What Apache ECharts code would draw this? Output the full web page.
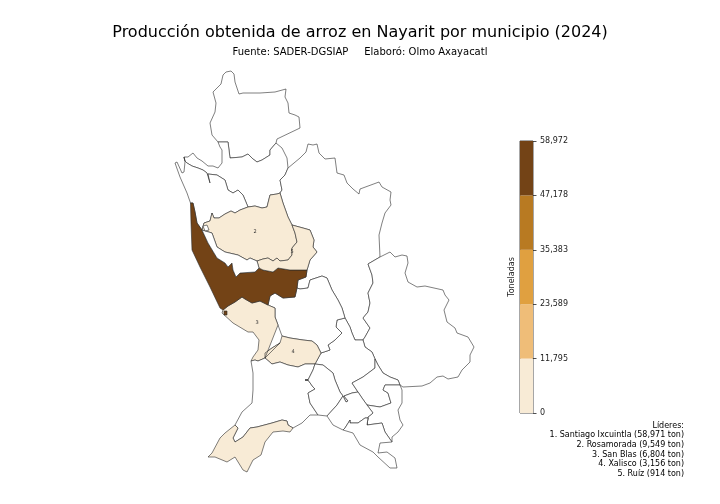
<!DOCTYPE html>
<html>
<head>
<meta charset="UTF-8">
<title>Arroz Nayarit</title>
<script src="https://cdn.jsdelivr.net/npm/echarts@6/dist/echarts.min.js"></script>
<style>
html, body { margin: 0; padding: 0; background: #fff; }
#main { width: 720px; height: 504px; }
</style>
</head>
<body>
<div id="main"></div>
<script type="text/javascript">
// datos
var municipios = ['Santiago Ixcuintla', 'Rosamorada', 'San Blas', 'Xalisco', 'Ruíz', 'Bahía de Banderas'];
var toneladas = [58971, 9549, 6804, 3156, 914, 500];
var numLideres = 5;
var cortes = [0, 11795, 23589, 35383, 47178, 58972];
var colores = ['#f8ebd6', '#efbd78', '#e0a040', '#b87a22', '#734316'];

// trazos de los limites municipales, compartidos entre vecinos
var bordes = {
  hua_n: [[218,142],[212,135],[210,123],[215,112],[216,103],[213,92],[221,84],[223,75],[226,72],[231,71],[234,74],[235,82],[237,88],[239,94],[243,93],[260,93],[275,92],[286,89],[285,97],[288,103],[289,113],[295,115],[299,117],[300,128],[301,129],[277,139],[276,143]],
  hua_s: [[276,143],[270,150],[270,155],[262,160],[257,162],[253,159],[248,154],[242,157],[230,158],[228,142],[218,142]],
  aca_n: [[218,142],[220,147],[222,150],[222,163],[218,168],[213,166],[208,166],[202,161],[197,158],[193,153],[188,157],[184,157]],
  aca_s: [[184,157],[185,161],[187,163],[192,166],[198,168],[203,170],[207,173],[210,183],[208,174],[217,175],[225,180],[228,190],[233,193],[238,190],[243,195],[248,207]],
  aca_e: [[248,207],[255,206],[262,208],[267,207],[270,195],[277,194],[280,193]],
  aca_e2: [[280,193],[282,190],[280,180],[285,175],[288,168]],
  aca_e3: [[288,168],[287,158],[282,148],[276,143]],
  tec_o: [[184,157],[185,162],[184,172],[182,173],[177,162],[175,163],[180,177],[187,193],[190.5,203]],
  stg_n: [[190.5,203],[193,203],[195,212],[197,223],[202,230]],
  ros_n: [[202,230],[204,223],[210,221],[212,213],[214,218],[219,218],[225,214],[231,211],[235,213],[240,210],[248,207]],
  nay_n: [[288,168],[300,158],[306,152],[308,144],[313,145],[317,144],[319,153],[325,159],[335,158],[337,173],[344,175],[347,183],[353,189],[359,194],[360,189],[379,182],[382,187],[391,192],[390,200],[391,205],[385,213],[382,223],[379,235],[380,257]],
  yes_n: [[380,257],[390,252],[395,257],[402,255],[407,256],[408,263],[405,273],[408,282],[417,287],[425,286],[443,290],[445,295],[449,300],[444,310],[447,322],[455,328],[457,333],[468,337],[474,347],[470,355],[470,362],[462,370],[458,377],[448,379],[443,376],[437,377],[430,383],[422,386],[403,387],[400,385]],
  yes_o: [[380,257],[368,264],[372,275],[373,283],[368,293],[370,303],[368,312],[363,318],[370,328],[365,337],[363,340]],
  yes_s: [[400,385],[398,380],[390,377],[383,373],[378,365],[375,359]],
  yes_so: [[375,359],[372,352],[365,347],[363,340]],
  ros_e: [[280,193],[283,203],[288,217],[292,225]],
  rui_ne: [[292,225],[303,228],[310,230],[314,240],[313,247],[317,252],[310,260],[307,270]],
  stg_e: [[307,270],[306,277],[298,280],[297,288]],
  tep_n: [[297,288],[300,289],[308,288],[310,280],[322,276],[327,278],[332,290],[338,300],[342,308],[345,318]],
  smo_n: [[345,318],[350,327],[352,333],[355,340],[363,340]],
  smo_e: [[375,359],[375,368],[363,377],[352,383]],
  j1: [[352,383],[358,392]],
  j2: [[358,392],[352,393],[344,396],[348,401],[346,402],[343,396]],
  smo_so: [[343,396],[340,392],[335,380],[333,373],[323,365],[315,364]],
  tep_se: [[321,353],[330,350],[328,345],[335,340],[342,333],[336,327],[337,320],[345,318]],
  xal_n: [[282,336],[290,338],[303,340],[312,341],[317,345],[321,353]],
  xal_e: [[321,353],[315,364]],
  xal_s: [[315,364],[305,364],[298,367],[288,365],[280,362],[272,364],[265,358]],
  xal_o: [[265,358],[265,353],[272,348],[280,343],[282,336]],
  sb_e: [[282,336],[278,325],[275,317],[275,308],[268,305]],
  stg_so: [[297,288],[295,297],[283,298],[275,293],[270,296],[268,305]],
  stg_s: [[268,305],[260,301],[252,303],[245,299],[242,297],[235,302],[228,306],[223,310]],
  sb_c: [[223,310],[222,313],[233,323],[248,332],[253,332],[259,340],[258,350],[253,357],[251,361]],
  sb_s: [[251,361],[255,360],[258,361],[265,358]],
  com_o: [[251,361],[253,373],[253,390],[252,403],[242,412],[235,425]],
  bah_c: [[235,425],[238,428],[233,438],[235,442],[243,437],[250,428],[257,427],[272,423],[282,420],[287,421],[288,425],[293,428]],
  bah_o: [[293,428],[290,432],[283,431],[273,432],[265,442],[261,455],[253,460],[247,472],[243,470],[235,457],[227,462],[215,457],[208,457],[212,453],[220,438],[225,433],[235,425]],
  com_s: [[293,428],[302,423],[310,415],[318,415]],
  spl_o: [[318,415],[310,403],[308,393],[315,389],[313,387],[308,380],[305,380],[308,380],[313,370],[315,364]],
  spl_s: [[318,415],[327,416]],
  spl_e: [[327,416],[337,405],[343,396]],
  jal_e: [[400,385],[385,385],[383,390],[388,393],[391,403],[380,407],[367,405]],
  jal_so: [[367,405],[362,398],[358,392]],
  ixt_e: [[400,385],[402,390],[402,403],[398,410],[400,420],[403,425],[398,432],[392,437],[392,442]],
  ixt_s: [[392,442],[385,432],[382,423],[367,425]],
  ixt_o: [[367,425],[368,417],[373,413],[367,405]],
  ahu_s: [[367,425],[368,418],[365,418],[358,423],[350,423],[350,420],[345,428],[343,430]],
  ahu_o: [[343,430],[333,425],[327,416]],
  ama_o: [[343,430],[353,433],[360,445],[373,452],[378,457],[390,468],[397,468],[395,458],[387,452],[378,453],[380,443],[392,442]],
  stg_tux: [[202,230],[208,243],[217,258],[225,263],[228,267],[232,263],[233,270],[236,277],[240,273],[255,272],[259,268]],
  stg_rui: [[259,268],[263,270],[273,272],[278,268],[290,270],[307,270]],
  stg_c: [[223,310],[220,308],[210,287],[200,267],[192,250],[191,223],[190.5,203]],
  ros_rui: [[292,225],[295,233],[297,242],[292,248],[292,255],[288,260],[280,261],[277,258],[273,261],[268,258],[263,259],[257,261]],
  ros_tux: [[257,261],[250,258],[247,260],[238,255],[225,252],[217,247],[212,233],[202,230]],
  tux_e: [[259,268],[257,261]]
};

// cada municipio como lista de trazos ('-' = recorrido al reves)
var anillos = {
  'Huajicori': ['hua_n', 'hua_s'],
  'Acaponeta': ['aca_n', 'aca_s', 'aca_e', 'aca_e2', 'aca_e3', 'hua_s'],
  'Tecuala': ['tec_o', 'stg_n', 'ros_n', '-aca_s'],
  'Del Nayar': ['nay_n', 'yes_o', '-smo_n', '-tep_n', '-stg_e', '-rui_ne', '-ros_e', 'aca_e2'],
  'La Yesca': ['yes_n', 'yes_s', 'yes_so', '-yes_o'],
  'Santa María del Oro': ['smo_n', '-yes_so', 'smo_e', 'j1', 'j2', 'smo_so', '-xal_e', 'tep_se'],
  'Tepic': ['tep_n', '-tep_se', '-xal_n', 'sb_e', '-stg_so'],
  'Xalisco': ['xal_n', 'xal_e', 'xal_s', 'xal_o'],
  'San Blas': ['sb_c', 'sb_s', '-xal_o', 'sb_e', 'stg_s'],
  'Compostela': ['com_o', 'bah_c', 'com_s', 'spl_o', 'xal_s', '-sb_s'],
  'Bahía de Banderas': ['bah_c', 'bah_o'],
  'San Pedro Lagunillas': ['-spl_o', 'spl_s', 'spl_e', 'smo_so'],
  'Jala': ['-smo_e', '-yes_s', 'jal_e', 'jal_so', '-j1'],
  'Ixtlán del Río': ['ixt_e', 'ixt_s', 'ixt_o', '-jal_e'],
  'Ahuacatlán': ['-jal_so', '-ixt_o', 'ahu_s', 'ahu_o', 'spl_e', '-j2'],
  'Amatlán de Cañas': ['ama_o', 'ixt_s', 'ahu_s'],
  'Santiago Ixcuintla': ['stg_tux', 'stg_rui', 'stg_e', 'stg_so', 'stg_s', 'stg_c', 'stg_n'],
  'Rosamorada': ['ros_n', 'aca_e', 'ros_e', 'ros_rui', 'ros_tux'],
  'Ruíz': ['rui_ne', '-stg_rui', 'tux_e', '-ros_rui'],
  'Tuxpan': ['stg_tux', 'tux_e', 'ros_tux']
};
var isla = [[224,311],[227,311],[227,315],[224,315],[224,311]];
var laguna = [[203,226],[207,225],[209,230],[205,231],[203,226]];
var centros = {'Rosamorada': [255,232], 'San Blas': [257,323], 'Xalisco': [293,352], 'Ruíz': [292,252]};

function voltear(p) { return [p[0], -p[1]]; }

function anillo(lista) {
  var pts = [];
  lista.forEach(function (n) {
    var t = n.charAt(0) === '-' ? bordes[n.slice(1)].slice().reverse() : bordes[n];
    pts = pts.concat(pts.length ? t.slice(1) : t);
  });
  return pts.map(voltear);
}

var features = Object.keys(anillos).map(function (nombre) {
  var props = {name: nombre};
  if (centros[nombre]) props.cp = voltear(centros[nombre]);
  var geom = {type: 'Polygon', coordinates: [anillo(anillos[nombre])]};
  if (nombre === 'Santiago Ixcuintla') {
    geom = {type: 'MultiPolygon', coordinates: [[anillo(anillos[nombre])], [isla.map(voltear)]]};
  }
  return {type: 'Feature', properties: props, geometry: geom};
});
features.push({type: 'Feature', properties: {name: 'Laguna'}, geometry: {type: 'Polygon', coordinates: [laguna.map(voltear)]}});
echarts.registerMap('nayarit', {type: 'FeatureCollection', features: features});

function miles(v) { return String(v).replace(/\B(?=(\d{3})+(?!\d))/g, ','); }

var lideres = ['Líderes:'];
for (var i = 0; i < numLideres; i++) {
  lideres.push((i + 1) + '. ' + municipios[i] + ' (' + miles(toneladas[i]) + ' ton)');
}

var datosMapa = municipios.map(function (m, i) {
  var d = {name: m, value: toneladas[i]};
  if (i > 0 && i < numLideres) d.label = {show: true, formatter: String(i + 1)};
  return d;
});

var fuente = 'DejaVu Sans';
var option = {
  backgroundColor: '#fff',
  animation: false,
  textStyle: {fontFamily: fuente},
  title: [
    {text: 'Producción obtenida de arroz en Nayarit por municipio (2024)', left: 355, top: 20, textAlign: 'center',
      textStyle: {fontFamily: fuente, fontSize: 16, fontWeight: 'normal', color: '#000'}},
    {text: 'Fuente: SADER-DGSIAP     Elaboró: Olmo Axayacatl', left: 355, top: 42, textAlign: 'center',
      textStyle: {fontFamily: fuente, fontSize: 10, fontWeight: 'normal', color: '#000'}},
    {text: lideres.join('\n'), left: 679, top: 416, textAlign: 'right',
      textStyle: {fontFamily: fuente, fontSize: 8, lineHeight: 9.6, fontWeight: 'normal', color: '#000', align: 'right'}}
  ],
  visualMap: {
    type: 'piecewise',
    show: false,
    seriesIndex: 0,
    pieces: colores.map(function (c, i) { return {min: cortes[i], max: cortes[i + 1], color: c}; })
  },
  grid: {left: 520, top: 141, width: 13, height: 272, show: true, borderColor: '#222', borderWidth: 0.8, backgroundColor: 'transparent'},
  xAxis: {type: 'category', data: [''], show: false},
  yAxis: [{
    type: 'value', position: 'right', min: 0, max: cortes[cortes.length - 1],
    splitLine: {show: false},
    axisLine: {show: false},
    axisTick: {show: true, length: 3.5, customValues: cortes, lineStyle: {color: '#222', width: 0.8}},
    axisLabel: {show: true, customValues: cortes, margin: 7, fontSize: 8, color: '#222', fontFamily: fuente, formatter: function (v) { return miles(v); }}
  }, {
    type: 'value', position: 'left', min: 0, max: cortes[cortes.length - 1],
    name: 'Toneladas', nameLocation: 'middle', nameGap: 4, nameRotate: 90,
    nameTextStyle: {fontSize: 8, color: '#222', fontFamily: fuente},
    splitLine: {show: false}, axisLine: {show: false}, axisTick: {show: false}, axisLabel: {show: false}
  }],
  series: [{
    type: 'map',
    map: 'nayarit',
    silent: true,
    aspectScale: 1,
    boundingCoords: [[0, 0], [720, -504]],
    left: 0, top: 0, width: 720, height: 504,
    itemStyle: {areaColor: '#fff', borderColor: '#2a2a2a', borderWidth: 0.6},
    label: {show: false, fontSize: 5, color: '#333', fontFamily: fuente},
    emphasis: {disabled: true},
    select: {disabled: true},
    data: datosMapa
  }].concat(colores.map(function (c, i) {
    return {
      type: 'bar', stack: 'barra', barWidth: '100%', silent: true,
      itemStyle: {color: c},
      data: [cortes[i + 1] - cortes[i]]
    };
  }))
};

var myChart = echarts.init(document.getElementById('main'));
myChart.setOption(option);
</script>
</body>
</html>
